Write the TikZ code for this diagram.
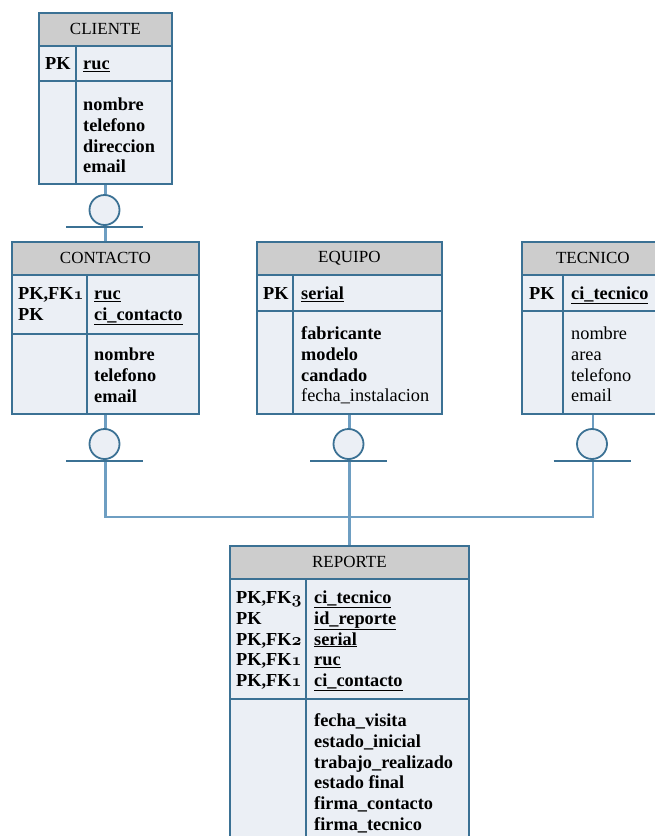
\documentclass[tikz,border=0pt]{standalone}
\usepackage{fontspec}
\setmainfont{Liberation Serif}
\definecolor{ercol}{RGB}{59,113,148}
\definecolor{linkcol}{RGB}{110,158,194}
\definecolor{cellfill}{RGB}{235,239,245}
\definecolor{headfill}{RGB}{205,205,205}
\pgfdeclarelayer{edgelayer}
\pgfdeclarelayer{nodelayer}
\pgfsetlayers{edgelayer,nodelayer,main}
\tikzstyle{entity}=[rectangle,anchor=north west,draw=ercol,fill=cellfill,line width=1.8pt,inner sep=0]
\tikzstyle{title}=[entity,fill=headfill,minimum height=33pt,font=\fontsize{17}{20}\selectfont]
\tikzstyle{field}=[anchor=north west,inner sep=0,align=left,font=\fontsize{18.3}{20.7}\selectfont\bfseries]
\tikzstyle{plain}=[field,font=\fontsize{18.3}{20.7}\selectfont\mdseries]
\tikzstyle{divider}=[draw=ercol,line width=1.8pt]
\tikzstyle{marker}=[circle,draw=ercol,fill=cellfill,line width=1.8pt,minimum size=30pt,inner sep=0]
\tikzstyle{link}=[draw=linkcol,line width=2.2pt]
\newcommand{\osn}[1]{{\usefont{OML}{cmm}{b}{it}#1}}
\newcommand{\fk}[1]{PK,FK\osn{#1}}

\begin{document}
\begin{tikzpicture}[x=1pt,y=-1pt]
	\useasboundingbox (0,0) rectangle (654,836);
	\begin{pgfonlayer}{nodelayer}
		% CLIENTE
		\node [style=entity, minimum width=133pt, minimum height=171pt] (0) at (38,12) {};
		\node [style=title, minimum width=133pt] (1) at (38,12) {CLIENTE};
		\node [style=entity, minimum width=133pt, minimum height=35pt] (2) at (38,45) {};
		\draw [style=divider] (76,45) -- (76,183);
		\node [style=field] (3) at (45,55) {\strut PK};
		\node [style=field] (4) at (83,55) {\strut\underline{ruc}};
		\node [style=field] (5) at (83,96) {\strut nombre\\telefono\\direccion\\email};
		% CONTACTO
		\node [style=entity, minimum width=187pt, minimum height=172pt] (6) at (11,241) {};
		\node [style=title, minimum width=187pt] (7) at (11,241) {CONTACTO};
		\node [style=entity, minimum width=187pt, minimum height=59pt] (8) at (11,274) {};
		\draw [style=divider] (87,274) -- (87,413);
		\node [style=field] (9) at (18,285) {\strut\fk{1}\\PK};
		\node [style=field] (10) at (94,285) {\strut\underline{ruc}\\\underline{ci\_contacto}};
		\node [style=field] (11) at (94,346) {\strut nombre\\telefono\\email};
		% EQUIPO
		\node [style=entity, minimum width=185pt, minimum height=172pt] (12) at (256,241) {};
		\node [style=title, minimum width=185pt] (13) at (256,241) {EQUIPO};
		\node [style=entity, minimum width=185pt, minimum height=36pt] (14) at (256,274) {};
		\draw [style=divider] (293,274) -- (293,413);
		\node [style=field] (15) at (263,285) {\strut PK};
		\node [style=field] (16) at (301,285) {\strut\underline{serial}};
		\node [style=field] (17) at (301,325) {\strut fabricante\\modelo\\candado\\\mdseries fecha\_instalacion};
		% TECNICO
		\node [style=entity, minimum width=142pt, minimum height=172pt] (18) at (521,241) {};
		\node [style=title, minimum width=142pt] (19) at (521,241) {TECNICO};
		\node [style=entity, minimum width=142pt, minimum height=36pt] (20) at (521,274) {};
		\draw [style=divider] (563,274) -- (563,413);
		\node [style=field] (21) at (529,285) {\strut PK};
		\node [style=field] (22) at (571,285) {\strut\underline{ci\_tecnico}};
		\node [style=plain] (23) at (571,325) {\strut nombre\\area\\telefono\\email};
		% REPORTE
		\node [style=entity, minimum width=239pt, minimum height=300pt] (24) at (229,545) {};
		\node [style=title, minimum width=239pt] (25) at (229,545) {REPORTE};
		\node [style=entity, minimum width=239pt, minimum height=120pt] (26) at (229,578) {};
		\draw [style=divider] (306,578) -- (306,845);
		\node [style=field] (27) at (236,589) {\strut\fk{3}\\PK\\\fk{2}\\\fk{1}\\\fk{1}};
		\node [style=field] (28) at (314,589) {\strut\underline{ci\_tecnico}\\\underline{id\_reporte}\\\underline{serial}\\\underline{ruc}\\\underline{ci\_contacto}};
		\node [style=field] (29) at (314,712) {\strut fecha\_visita\\estado\_inicial\\trabajo\_realizado\\estado final\\firma\_contacto\\firma\_tecnico};
		% zero-or-one markers
		\node [style=marker] (30) at (104.5,210) {};
		\node [style=marker] (31) at (104.5,444) {};
		\node [style=marker] (32) at (348.5,444) {};
		\node [style=marker] (33) at (592,444) {};
		\draw [style=divider] (30.south) ++(-38.5,1) -- ++(77,0);
		\draw [style=divider] (31.south) ++(-38.5,1) -- ++(77,0);
		\draw [style=divider] (32.south) ++(-38.5,1) -- ++(77,0);
		\draw [style=divider] (33.south) ++(-38.5,1) -- ++(77,0);
	\end{pgfonlayer}
	\begin{pgfonlayer}{edgelayer}
		\coordinate (34) at (348.5,517);
		\draw [style=link] (0.south) to (6.north);
		\draw [style=link] (6.south) |- (34);
		\draw [style=link] (18.south) |- (34);
		\draw [style=link] (12.south) to (24.north);
	\end{pgfonlayer}
\end{tikzpicture}
\end{document}
